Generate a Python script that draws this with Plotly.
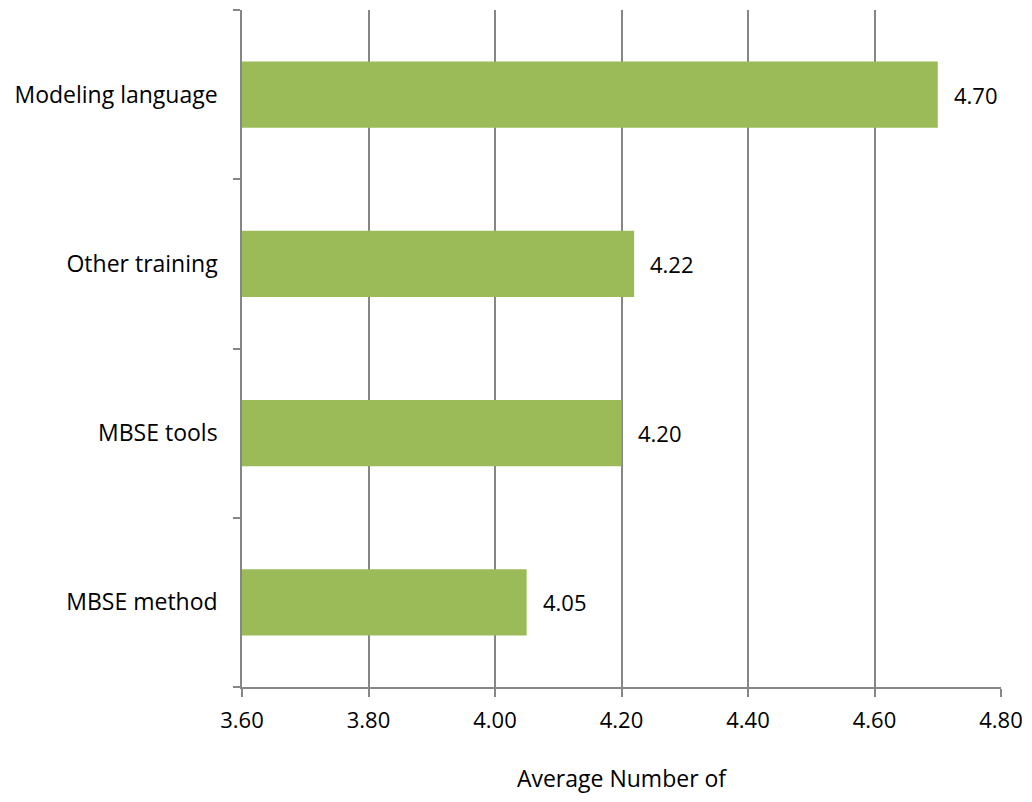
import plotly.graph_objects as go

categories = ["MBSE method", "MBSE tools", "Other training", "Modeling language"]
values = [4.05, 4.20, 4.22, 4.70]
labels = ["4.05", "4.20", "4.22", "4.70"]
x_ticks = [3.6, 3.8, 4.0, 4.2, 4.4, 4.6, 4.8]
x_tick_text = ["3.60", "3.80", "4.00", "4.20", "4.40", "4.60", "4.80"]

FONT = "Open Sans"
GRAY = "#868686"
FS = 22

fig = go.Figure()
fig.add_trace(go.Bar(
    y=categories, x=values, orientation="h",
    marker=dict(color="#9BBB59", line=dict(width=0)),
    width=0.39,
    hoverinfo="skip",
))

for c, v, t in zip(categories, values, labels):
    fig.add_annotation(x=v, y=c, text=t, showarrow=False, xanchor="left",
                       xshift=14, font=dict(family=FONT, size=FS, color="black"))

fig.update_layout(
    width=1016, height=786,
    margin=dict(l=234, r=23, t=2, b=107),
    plot_bgcolor="white", paper_bgcolor="white",
    showlegend=False,
    font=dict(family=FONT, size=FS, color="black"),
    xaxis=dict(
        range=[3.6, 4.8], tickvals=x_ticks, ticktext=x_tick_text,
        showgrid=True, gridcolor=GRAY, gridwidth=1.5,
        showline=True, linecolor=GRAY, linewidth=1.5,
        ticks="outside", ticklen=8, tickcolor=GRAY, tickwidth=1.5,
        zeroline=False,
        ticklabelstandoff=5,
        ticklabeloverflow="allow",
        title=dict(text="Average Number of", standoff=40,
                   font=dict(family=FONT, size=23, color="black")),
        tickfont=dict(family=FONT, size=FS, color="black"),
    ),
    yaxis=dict(
        showgrid=False, showline=True, linecolor=GRAY, linewidth=1.5,
        ticks="outside", ticklen=7, tickcolor=GRAY, tickwidth=1.5,
        tickson="boundaries",
        tickfont=dict(family=FONT, size=23, color="black"),
        ticklabelstandoff=18,
    ),
)

fig.write_html("out.html")
